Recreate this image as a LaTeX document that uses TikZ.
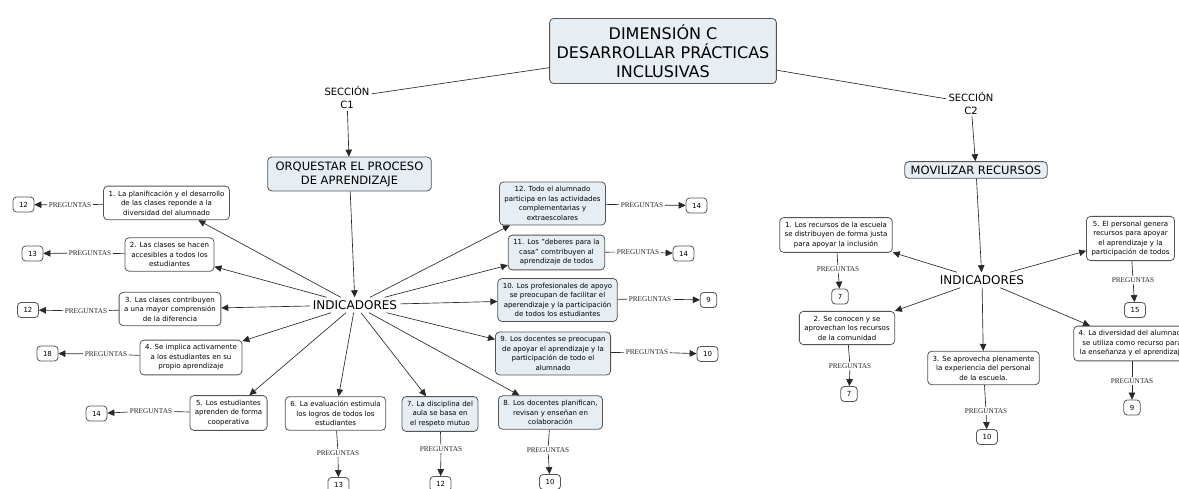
\documentclass[tikz,border=0pt]{standalone}
\usepackage{fontspec}
\setmainfont{DejaVu Sans}
\newfontfamily\pregfont{Liberation Serif}
\usetikzlibrary{arrows.meta, positioning}
\definecolor{linegray}{RGB}{40,40,40}
\definecolor{boxgray}{RGB}{85,85,85}
\definecolor{paleblue}{RGB}{230,238,244}

\begin{document}
\begin{tikzpicture}[
    x=1pt, y=-1pt,
    concept/.style={rectangle, rounded corners=4pt, draw=boxgray, line width=0.8pt,
                fill=white, align=center, inner xsep=5pt, inner ysep=4.5pt,
                font=\fontsize{7}{9.5}\selectfont},
    tinted/.style={concept, fill=paleblue},
    numbox/.style={rectangle, rounded corners=3.5pt, draw=boxgray, line width=0.8pt,
                fill=white, minimum height=15pt, inner xsep=6pt, inner ysep=0pt,
                font=\fontsize{7}{8}\selectfont},
    preg/.style={font=\pregfont\fontsize{7.3}{8}\selectfont, text=linegray, inner sep=1.5pt},
    seccion/.style={align=center, font=\fontsize{10}{13}\selectfont, inner sep=2pt},
    indic/.style={font=\fontsize{12}{14}\selectfont, inner sep=3pt},
    link/.style={draw=linegray, line width=0.65pt},
    arr/.style={-{Triangle[length=7pt,width=6.5pt]}, draw=linegray, line width=0.65pt}
]
\path[use as bounding box] (0,0) rectangle (1179,489);
\clip (0,0) rectangle (1179,489);

\node[tinted, font=\fontsize{16}{19}\selectfont, inner xsep=7pt, inner ysep=6pt] (dim) at (663,51)
    {DIMENSIÓN C\\DESARROLLAR PRÁCTICAS\\INCLUSIVAS};
\node[seccion] (secA) at (347,97.5) {SECCIÓN\\C1};
\node[seccion] (secB) at (971,103) {SECCIÓN\\C2};
\node[tinted, font=\fontsize{11.5}{14}\selectfont, inner xsep=8pt] (orq) at (349.5,174)
    {ORQUESTAR EL PROCESO\\DE APRENDIZAJE};
\node[tinted, font=\fontsize{11.5}{14}\selectfont, inner xsep=6pt, inner ysep=4pt] (mov) at (976,170)
    {MOVILIZAR RECURSOS};
\node[indic] (indA) at (355,305) {INDICADORES};
\node[indic] (indB) at (982,280) {INDICADORES};

\node[concept] (a1) at (166.5,203) {1. La planificación y el desarrollo\\de las clases reponde a la\\diversidad del alumnado};
\node[concept] (a2) at (169.5,254.5) {2. Las clases se hacen\\accesibles a todos los\\estudiantes};
\node[concept] (a3) at (170,309) {3. Las clases contribuyen\\a una mayor comprensión\\de la diferencia};
\node[concept] (a4) at (191,357.5) {4. Se implica activamente\\a los estudiantes en su\\propio aprendizaje};
\node[concept] (a5) at (228.5,413) {5. Los estudiantes\\aprenden de forma\\cooperativa};
\node[concept] (a6) at (335.5,413.5) {6. La evaluación estimula\\los logros de todos los\\estudiantes};
\node[tinted] (a7) at (440,414) {7. La disciplina del\\aula se basa en\\el respeto mutuo};
\node[tinted] (a8) at (550.5,412.5) {8. Los docentes planifican,\\revisan y enseñan en\\colaboración};
\node[tinted] (a9) at (553,353.5) {9. Los docentes se preocupan\\de apoyar el aprendizaje y la\\participación de todo el\\alumnado};
\node[tinted] (a10) at (557.5,300) {10. Los profesionales de apoyo\\se preocupan de facilitar el\\aperendizaje y la participación\\de todos los estudiantes};
\node[tinted] (a11) at (556.5,252.5) {11. Los "deberes para la\\casa" comtribuyen al\\aprendizaje de todos};
\node[tinted] (a12) at (552.5,203.5) {12. Todo el alumnado\\participa en las actividades\\complementarias y\\extraescolares};

\node[preg] (qa1) at (70,205) {PREGUNTAS};
\node[preg] (qa2) at (90,253) {PREGUNTAS};
\node[preg] (qa3) at (86,311) {PREGUNTAS};
\node[preg] (qa4) at (106,354) {PREGUNTAS};
\node[preg] (qa5) at (151,411) {PREGUNTAS};
\node[preg] (qa6) at (338,453) {PREGUNTAS};
\node[preg] (qa7) at (441,449) {PREGUNTAS};
\node[preg] (qa8) at (548,450) {PREGUNTAS};
\node[preg] (qa9) at (647,352) {PREGUNTAS};
\node[preg] (qa10) at (650,299) {PREGUNTAS};
\node[preg] (qa11) at (638,252) {PREGUNTAS};
\node[preg] (qa12) at (642,205) {PREGUNTAS};

\node[numbox] (na1) at (23.5,204.5) {12};
\node[numbox] (na2) at (32.5,253.5) {13};
\node[numbox] (na3) at (28,310) {12};
\node[numbox] (na4) at (47.5,353.5) {18};
\node[numbox] (na5) at (96.5,413.5) {14};
\node[numbox] (na6) at (338.5,485) {13};
\node[numbox] (na7) at (440.5,484) {12};
\node[numbox] (na8) at (550,482) {10};
\node[numbox] (na9) at (707.5,354) {10};
\node[numbox] (na10) at (708.5,300) {9};
\node[numbox] (na11) at (683.5,253.5) {14};
\node[numbox] (na12) at (696.5,205.5) {14};

\node[concept] (b1) at (836,235) {1. Los recursos de la escuela\\se distribuyen de forma justa\\para apoyar la inclusión};
\node[concept] (b2) at (847,328) {2. Se conocen y se\\aprovechan los recursos\\de la comunidad};
\node[concept] (b3) at (983.5,368) {3. Se aprovecha plenamente\\la experiencia del personal\\de la escuela.};
\node[concept] (b4) at (1132,343.5) {4. La diversidad del alumnado\\se utiliza como recurso para\\la enseñanza y el aprendizaje};
\node[concept] (b5) at (1130.5,238.5) {5. El personal genera\\recursos para apoyar\\el aprendizaje y la\\participación de todos};

\node[preg] (qb1) at (838,269) {PREGUNTAS};
\node[preg] (qb2) at (850,366) {PREGUNTAS};
\node[preg] (qb3) at (986,411) {PREGUNTAS};
\node[preg] (qb4) at (1132,381) {PREGUNTAS};
\node[preg] (qb5) at (1133,280) {PREGUNTAS};

\node[numbox] (nb1) at (840,296.5) {7};
\node[numbox] (nb2) at (849,394) {7};
\node[numbox] (nb3) at (987,437) {10};
\node[numbox] (nb4) at (1132,407.5) {9};
\node[numbox] (nb5) at (1135,310) {15};

\draw[link] (dim) -- (secA);
\draw[link] (dim) -- (secB);
\draw[arr] (secA) -- (orq);
\draw[arr] (orq) -- (indA);
\draw[arr] (secB) -- (mov);
\draw[arr] (mov) -- (indB);

\draw[arr] (indA) -- (a1);
\draw[arr] (indA) -- (a2);
\draw[arr] (indA) -- (a3);
\draw[arr] (indA) -- (a4);
\draw[arr] (indA) -- (a5);
\draw[arr] (indA) -- (a6);
\draw[arr] (indA) -- (a7);
\draw[arr] (indA) -- (a8);
\draw[arr] (indA) -- (a9);
\draw[arr] (indA) -- (a10);
\draw[arr] (indA) -- (a11);
\draw[arr] (indA) -- (a12);

\draw[arr] (indB) -- (b1);
\draw[arr] (indB) -- (b2);
\draw[arr] (indB) -- (b3);
\draw[arr] (indB) -- (b4);
\draw[arr] (indB) -- (b5);

\draw[link] (a1) -- (qa1);  \draw[arr] (qa1) -- (na1);
\draw[link] (a2) -- (qa2);  \draw[arr] (qa2) -- (na2);
\draw[link] (a3) -- (qa3);  \draw[arr] (qa3) -- (na3);
\draw[link] (a4) -- (qa4);  \draw[arr] (qa4) -- (na4);
\draw[link] (a5) -- (qa5);  \draw[arr] (qa5) -- (na5);
\draw[link] (a6) -- (qa6);  \draw[arr] (qa6) -- (na6);
\draw[link] (a7) -- (qa7);  \draw[arr] (qa7) -- (na7);
\draw[link] (a8) -- (qa8);  \draw[arr] (qa8) -- (na8);
\draw[link] (a9) -- (qa9);  \draw[arr] (qa9) -- (na9);
\draw[link] (a10) -- (qa10);  \draw[arr] (qa10) -- (na10);
\draw[link] (a11) -- (qa11);  \draw[arr] (qa11) -- (na11);
\draw[link] (a12) -- (qa12);  \draw[arr] (qa12) -- (na12);

\draw[link] (b1) -- (qb1);  \draw[arr] (qb1) -- (nb1);
\draw[link] (b2) -- (qb2);  \draw[arr] (qb2) -- (nb2);
\draw[link] (b3) -- (qb3);  \draw[arr] (qb3) -- (nb3);
\draw[link] (b4) -- (qb4);  \draw[arr] (qb4) -- (nb4);
\draw[link] (b5) -- (qb5);  \draw[arr] (qb5) -- (nb5);
\end{tikzpicture}
\end{document}
